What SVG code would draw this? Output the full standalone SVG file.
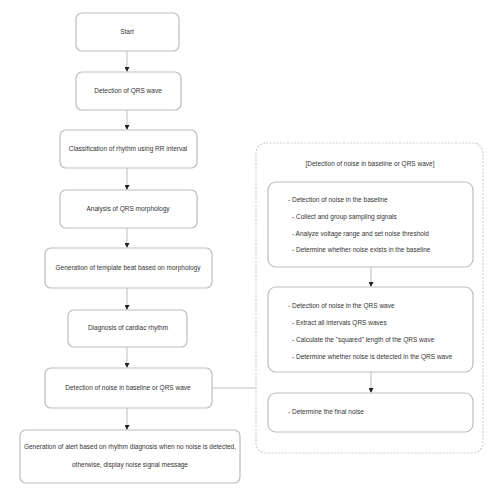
<svg xmlns="http://www.w3.org/2000/svg" width="500" height="500" viewBox="0 0 500 500">
<style>
.b{fill:#fff;stroke:#bdbdbd;stroke-width:1.2}
.t{font-family:"Liberation Sans",Arial,sans-serif;font-size:6.5px;fill:#333}
.c{text-anchor:middle}
.l{stroke:#bdbdbd;stroke-width:1;fill:none}
</style>
<defs>
<marker id="a" markerWidth="5" markerHeight="5" refX="4" refY="2.5" orient="auto" markerUnits="userSpaceOnUse">
<path d="M0,0 L5,2.5 L0,5 z" fill="#222"/>
</marker>
</defs>
<rect width="500" height="500" fill="#fff"/>
<g id="connectors">
<line class="l" x1="127" y1="51" x2="127" y2="71" marker-end="url(#a)"/>
<line class="l" x1="127" y1="110" x2="127" y2="129" marker-end="url(#a)"/>
<line class="l" x1="127" y1="168" x2="127" y2="189" marker-end="url(#a)"/>
<line class="l" x1="127" y1="228" x2="127" y2="247" marker-end="url(#a)"/>
<line class="l" x1="127" y1="288" x2="127" y2="309" marker-end="url(#a)"/>
<line class="l" x1="127" y1="347" x2="127" y2="367" marker-end="url(#a)"/>
<line class="l" x1="127" y1="408" x2="127" y2="429" marker-end="url(#a)"/>
<line class="l" x1="212" y1="388" x2="256" y2="388"/>
<line class="l" x1="371" y1="267" x2="371" y2="286" marker-end="url(#a)"/>
<line class="l" x1="371" y1="372" x2="371" y2="392" marker-end="url(#a)"/>
</g>
<g id="n1"><rect class="b" x="76" y="13" width="103" height="38" rx="6"/><text class="t c" x="127" y="34">Start</text></g>
<g id="n2"><rect class="b" x="76" y="72" width="105" height="38" rx="6"/><text class="t c" x="128" y="93">Detection of QRS wave</text></g>
<g id="n3"><rect class="b" x="60" y="130" width="137" height="38" rx="6"/><text class="t c" x="128" y="151">Classification of rhythm using RR interval</text></g>
<g id="n4"><rect class="b" x="60" y="190" width="137" height="38" rx="6"/><text class="t c" x="128" y="211">Analysis of QRS morphology</text></g>
<g id="n5"><rect class="b" x="45" y="248" width="167" height="40" rx="6"/><text class="t c" x="128" y="270">Generation of template beat based on morphology</text></g>
<g id="n6"><rect class="b" x="68" y="310" width="119" height="37" rx="6"/><text class="t c" x="128" y="330">Diagnosis of cardiac rhythm</text></g>
<g id="n7"><rect class="b" x="45" y="368" width="167" height="40" rx="6"/><text class="t c" x="128" y="390">Detection of noise in baseline or QRS wave</text></g>
<g id="n8"><rect class="b" x="20" y="430" width="220" height="53" rx="6"/><text class="t c" x="130" y="449">Generation of alert based on rhythm diagnosis when no noise is detected,</text><text class="t c" x="130" y="467">otherwise, display noise signal message</text></g>
<g id="panel">
<rect x="256" y="143" width="227" height="310" rx="10" fill="none" stroke="#cfcfcf" stroke-width="1.2" stroke-dasharray="2,1.5"/>
<text class="t c" x="370" y="166">[Detection of noise in baseline or QRS wave]</text>
</g>
<g id="p1"><rect class="b" x="268" y="182" width="205" height="85" rx="8"/>
<text class="t" x="288" y="202">- Detection of noise in the baseline</text>
<text class="t" x="292" y="219">- Collect and group sampling signals</text>
<text class="t" x="292" y="236">- Analyze voltage range and set noise threshold</text>
<text class="t" x="292" y="252">- Determine whether noise exists in the baseline</text></g>
<g id="p2"><rect class="b" x="268" y="287" width="205" height="85" rx="8"/>
<text class="t" x="288" y="308">- Detection of noise in the QRS wave</text>
<text class="t" x="292" y="325">- Extract all intervals QRS waves</text>
<text class="t" x="292" y="342">- Calculate the "squared" length of the QRS wave</text>
<text class="t" x="292" y="359">- Determine whether noise is detected in the QRS wave</text></g>
<g id="p3"><rect class="b" x="268" y="393" width="205" height="39" rx="8"/>
<text class="t" x="288" y="414">- Determine the final noise</text></g>
</svg>
